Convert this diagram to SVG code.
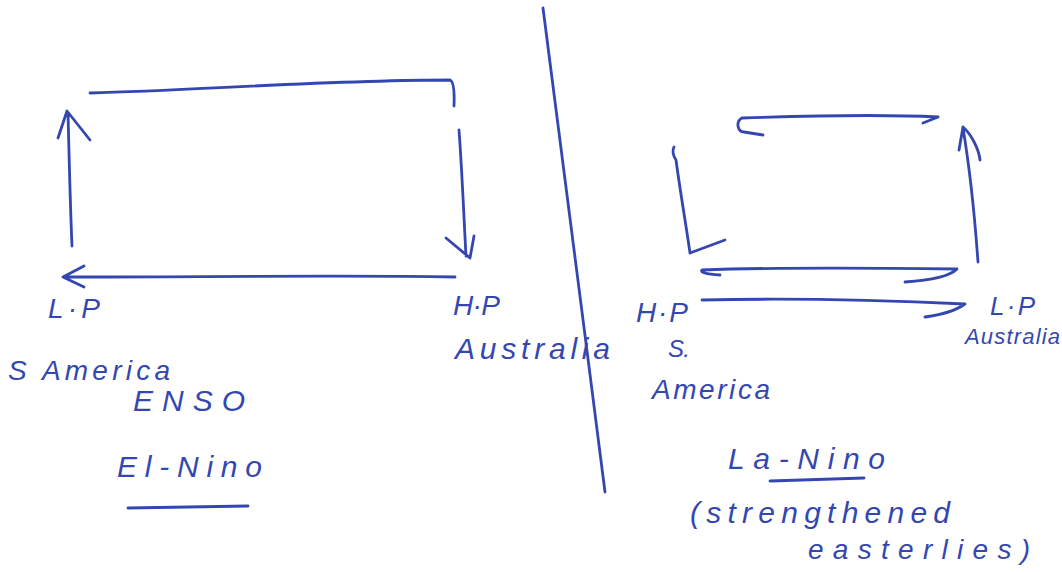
<svg xmlns="http://www.w3.org/2000/svg" width="1062" height="573" viewBox="0 0 1062 573">
<style>
.ln{fill:none;stroke:#3447b0;stroke-width:2.8;stroke-linecap:round;stroke-linejoin:round}
.t{font-family:"Liberation Sans","DejaVu Sans",sans-serif;fill:#3447b0;font-style:italic}
</style>
<rect width="1062" height="573" fill="#ffffff"/>
<g id="connectors">
<path class="ln" d="M90 93 C200 90 330 80 450 80 Q455 82 454 106"/>
<path class="ln" d="M72 246 C70 200 69 150 68 113 M58 138 L67 111 L90 140"/>
<path class="ln" d="M459 130 C462 170 464 220 466 256 M446 238 L470 258 L474 236"/>
<path class="ln" d="M455 277 C350 275 200 277 64 277 M84 266 L63 277 L84 287"/>
<path class="ln" d="M543 8 C560 150 585 330 605 492"/>
<path class="ln" d="M938 117 C880 114 800 116 742 118 C735 122 738 132 744 132 L763 135 M938 117 L923 123"/>
<path class="ln" d="M674 147 C672 150 673 156 676 160 C680 190 686 225 690 253 L725 240"/>
<path class="ln" d="M978 262 C975 220 970 170 963 128 M959 150 L963 127 C972 135 979 150 980 160"/>
<path class="ln" d="M720 275 C705 274 700 272 702 270 C780 267 880 268 957 269 C950 276 935 280 905 282"/>
<path class="ln" d="M702 300 C790 298 880 300 965 304 C955 311 940 315 925 317"/>
</g>
<g id="node-lp-left"><text class="t" x="48" y="318" font-size="28" textLength="52">L·P</text></g>
<g id="node-samerica-left"><text class="t" x="8" y="380" font-size="28" textLength="162">S America</text></g>
<g id="node-enso"><text class="t" x="133" y="411" font-size="30" textLength="112">ENSO</text></g>
<g id="node-elnino"><text class="t" x="117" y="477" font-size="30" textLength="145">El-Nino</text>
<path class="ln" d="M128 508 L248 506"/></g>
<g id="node-hp-left"><text class="t" x="453" y="315" font-size="28" textLength="47">H·P</text></g>
<g id="node-australia-left"><text class="t" x="455" y="359" font-size="30" textLength="155">Australia</text></g>
<g id="node-hp-right"><text class="t" x="636" y="322" font-size="28" textLength="52">H·P</text></g>
<g id="node-samerica-right"><text class="t" x="668" y="357" font-size="24" textLength="22">S.</text>
<text class="t" x="652" y="399" font-size="28" textLength="118">America</text></g>
<g id="node-lp-right"><text class="t" x="990" y="315" font-size="26" textLength="45">L·P</text></g>
<g id="node-australia-right"><text class="t" x="965" y="344" font-size="22" textLength="95">Australia</text></g>
<g id="node-lanina"><text class="t" x="728" y="469" font-size="30" textLength="157">La-Nino</text>
<path class="ln" d="M770 481 L864 478"/></g>
<g id="node-easterlies"><text class="t" x="690" y="523" font-size="30" textLength="260">(strengthened</text>
<text class="t" x="808" y="559" font-size="28" textLength="222">easterlies)</text></g>
</svg>
